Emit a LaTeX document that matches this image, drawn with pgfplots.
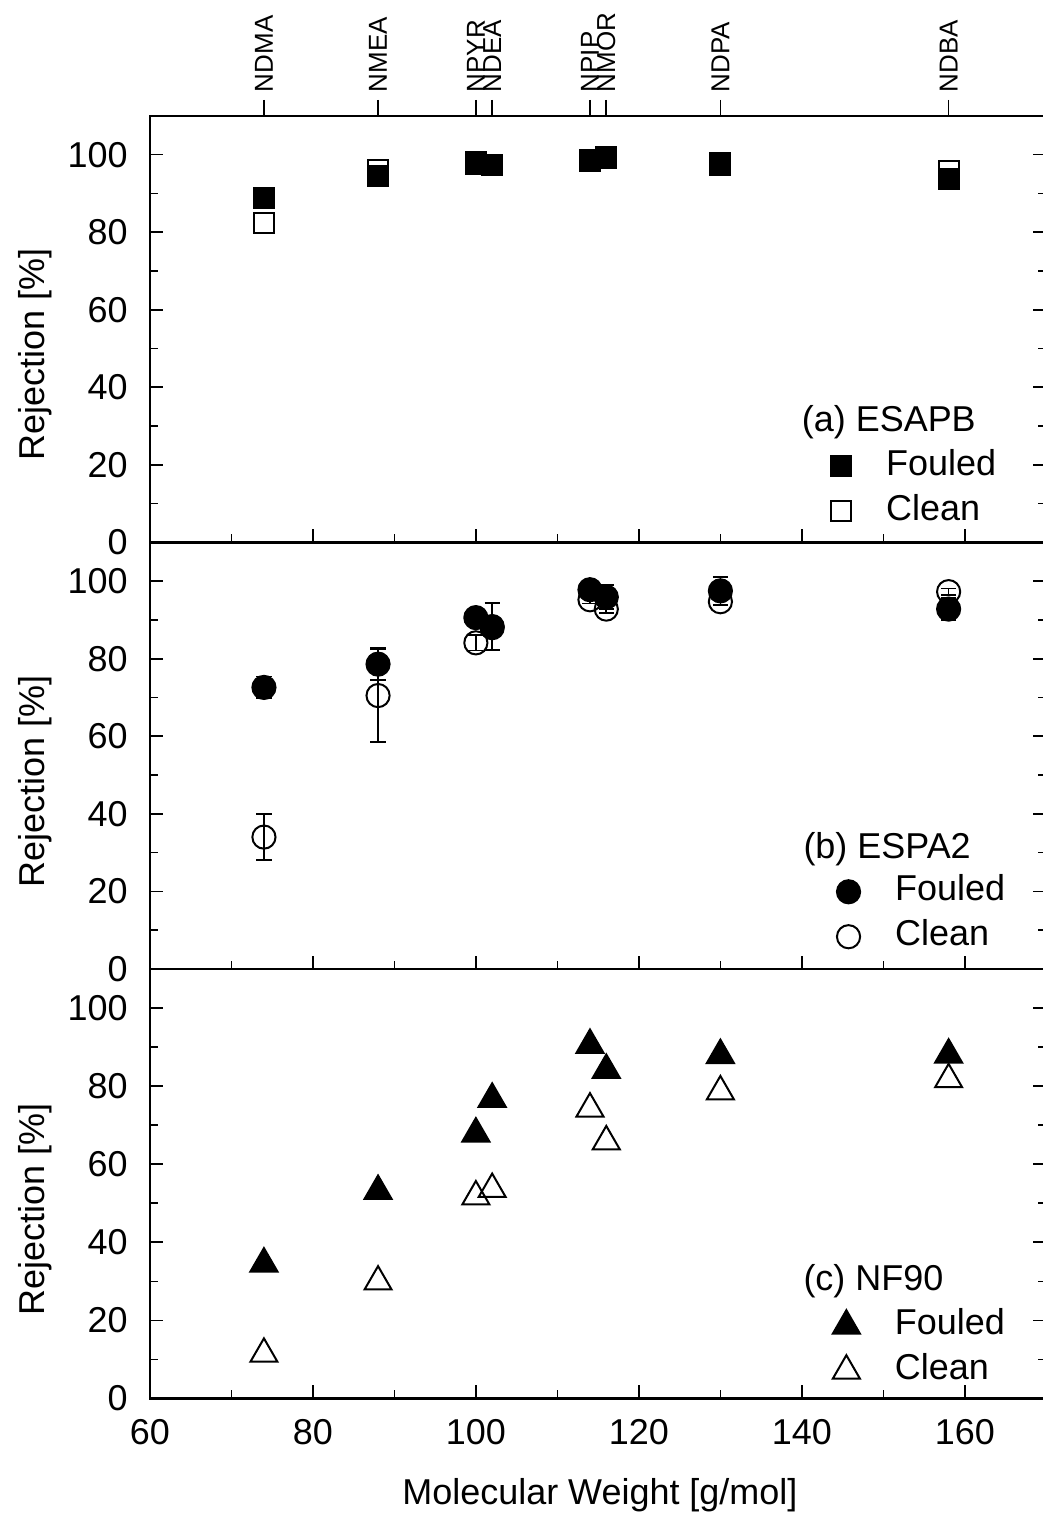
\documentclass[border=0pt]{standalone}
\usepackage{fontspec}
\setmainfont{Liberation Sans}
\usepackage{pgfplots}
\pgfplotsset{compat=1.18}

\pgfplotsset{
 panel/.style={
  scale only axis, width=224.4pt, height=106.75pt,
  xmin=60, xmax=170, ymin=0, ymax=110,
  xtick={60,80,...,160}, minor x tick num=1,
  ytick={0,20,...,100}, minor y tick num=1,
  xtick pos=bottom, ytick pos=both,
  tick align=inside,
  major tick length=3.3pt, minor tick length=2pt,
  axis line style={line width=0.6pt},
  every tick/.style={black, line width=0.4pt},
  tick label style={font=\fontsize{9}{11}\selectfont},
  /pgf/number format/assume math mode=true,
  yticklabel style={xshift=-2pt},
  xticklabel style={yshift=-1.75pt},
  ylabel={Rejection [\%]},
  ylabel style={at={(axis description cs:-0.128,0.44)}, anchor=center, font=\fontsize{9}{11}\selectfont},
  legend style={draw=none, fill=none, inner sep=0pt, outer sep=0pt,
    font=\fontsize{9}{11}\selectfont,
    nodes={inner sep=0pt, text height=6.5pt, text depth=1.9pt},
    row sep=2.85pt, column sep=8.75pt},
  legend cell align=left,
  reverse legend,
  legend image code/.code={\draw[##1] plot coordinates {(0pt,0pt)};},
 },
 cleanmk/.style={only marks, mark=#1, draw=black, mark options={fill=white, draw=black, line width=0.5pt}},
 fouledmk/.style={only marks, mark=#1, draw=black, mark options={fill=black, draw=black, line width=0.5pt}},
 ebar/.style={error bars/.cd, y dir=both, y explicit,
   error bar style={line width=0.4pt, black},
   error mark options={rotate=90, mark size=1.9pt, line width=0.4pt, black}},
}

\begin{document}
\begin{tikzpicture}
% ---------- (a) ESAPB ----------
\begin{axis}[panel, at={(0pt,0pt)}, anchor=north west, xticklabels={},
  legend style={at={(axis cs:143.6,13.8)}, anchor=west}]
\addplot[cleanmk=square, mark size=2.5pt] coordinates {
 (74,82.4) (88,96.1) (100,97.5) (102,97.2) (114,98.3) (116,99.2) (130,97.8) (158,95.7)};
\addlegendentry{Clean}
\addplot[fouledmk=square*, mark size=2.5pt] coordinates {
 (74,88.7) (88,94.4) (100,98.0) (102,97.4) (114,98.5) (116,99.4) (130,97.4) (158,93.6)};
\addlegendentry{Fouled}
\node[anchor=west, inner sep=0pt, font=\fontsize{9}{11}\selectfont] at (axis cs:139.9,31) {(a) ESAPB};
\end{axis}
% compound labels on top
\begin{axis}[at={(0pt,0pt)}, anchor=north west, scale only axis, width=224.4pt, height=106.75pt,
  xmin=60, xmax=170, ymin=0, ymax=110,
  axis x line*=top, hide y axis, axis line style={-, line width=0.6pt},
  xtick={74,88,100,102,114,116,130,158},
  xticklabels={NDMA,NMEA,NPYR,NDEA,NPIP,NMOR,NDPA,NDBA},
  minor x tick num=0,
  tick align=outside, major tick length=4pt,
  every tick/.style={black, line width=0.4pt},
  xticklabel style={rotate=90, anchor=west, inner sep=1.75pt, font=\fontsize{6.5}{7}\selectfont}]
\end{axis}
% ---------- (b) ESPA2 ----------
\begin{axis}[panel, at={(0pt,-106.75pt)}, anchor=north west, xticklabels={},
  legend style={at={(axis cs:144.3,14.1)}, anchor=west}]
\addplot[cleanmk=o, mark size=2.9pt, ebar] coordinates {
 (74,34.0) +- (0,5.9)
 (88,70.5) +- (0,11.9)
 (100,84.1) +- (0,2.0)
 (102,88.0) +- (0,1.0)
 (114,95.2) +- (0,1.0)
 (116,92.8) +- (0,1.0)
 (130,94.7) +- (0,1.0)
 (158,97.3) +- (0,0.8)};
\addlegendentry{Clean}
\addplot[fouledmk=*, mark size=2.9pt, ebar] coordinates {
 (74,72.6) +- (0,2.8)
 (88,78.6) +- (0,4.1)
 (100,90.6) +- (0,1.0)
 (102,88.3) +- (0,6.0)
 (114,97.8) +- (0,1.0)
 (116,95.9) +- (0,3.1)
 (130,97.5) +- (0,3.6)
 (158,92.8) +- (0,2.8)};
\addlegendentry{Fouled}
\node[anchor=west, inner sep=0pt, font=\fontsize{9}{11}\selectfont] at (axis cs:140.1,31) {(b) ESPA2};
\end{axis}
% ---------- (c) NF90 ----------
\begin{axis}[panel, at={(0pt,-213.5pt)}, anchor=north west, height=107.5pt,
  xlabel={Molecular Weight [g/mol]},
  xlabel style={at={(axis description cs:0.502,0)}, anchor=center, yshift=-24.25pt, font=\fontsize{9}{11}\selectfont},
  legend style={at={(axis cs:143.8,12.85)}, anchor=west}]
\addplot[cleanmk=triangle, mark size=3.9pt] coordinates {
 (74,11.4) (88,29.9) (100,51.7) (102,53.6) (114,74.2) (116,65.8) (130,78.6) (158,81.7)};
\addlegendentry{Clean}
\addplot[fouledmk=triangle*, mark size=3.9pt] coordinates {
 (74,34.5) (88,53.1) (100,67.8) (102,76.7) (114,90.5) (116,84.1) (130,87.9) (158,88.0)};
\addlegendentry{Fouled}
\node[anchor=west, inner sep=0pt, font=\fontsize{9}{11}\selectfont] at (axis cs:140.1,30.1) {(c) NF90};
\end{axis}
\pgfresetboundingbox
\path[use as bounding box] (-37.5pt,29pt) rectangle ++(260bp,-380bp);
\end{tikzpicture}
\end{document}
